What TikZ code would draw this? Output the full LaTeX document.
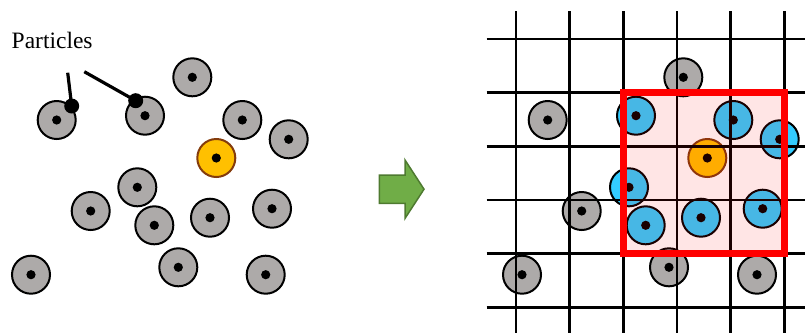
\documentclass[tikz,border=0pt]{standalone}
\usepackage{fontspec}
\setmainfont{Liberation Serif}
\begin{document}
\begin{tikzpicture}[x=1pt,y=-1pt,
  particle/.style={circle,draw=black,line width=2pt,fill=pgray,minimum size=38pt,inner sep=0pt,
    path picture={\fill[black] (path picture bounding box.center) circle (4.6pt);}},
  target/.style={particle,fill=porange,draw=pbrown},
  near/.style={particle,fill=pcyan},
  marker/.style={circle,fill=black,minimum size=15pt,inner sep=0pt},
  gridline/.style={black,line width=2.5pt},
  pointer/.style={black,line width=3.2pt}]
\definecolor{pgray}{HTML}{ADAAA9}
\definecolor{porange}{HTML}{FFC000}
\definecolor{pbrown}{HTML}{843C0C}
\definecolor{pcyan}{HTML}{33CCFF}
\definecolor{agreen}{HTML}{70AD47}
\definecolor{adark}{HTML}{4E7A30}
\useasboundingbox (0,0) rectangle (805,333);

% ---- left panel: free particles ----
\node[particle] (p1)  at (56.7,120)   {};
\node[particle] (p2)  at (145,115.7)  {};
\node[particle] (p3)  at (192.3,77.3) {};
\node[particle] (p4)  at (242.3,120)  {};
\node[particle] (p5)  at (288.7,139.3){};
\node[target]   (p6)  at (216.3,158)  {};
\node[particle] (p7)  at (137.3,187.3){};
\node[particle] (p8)  at (90.7,211)   {};
\node[particle] (p9)  at (154.3,225.3){};
\node[particle] (p10) at (210,217.7)  {};
\node[particle] (p11) at (272,208.7)  {};
\node[particle] (p12) at (31,274.7)   {};
\node[particle] (p13) at (178.3,267.3){};
\node[particle] (p14) at (265.7,274.7){};

\node[anchor=base west,inner sep=0pt,font=\fontsize{23.5}{26}\selectfont] (lbl) at (11.5,48.3) {Particles};
\coordinate (s1) at (67.7,72.7);
\coordinate (s2) at (84.3,71.7);
\node[marker] (d1) at (71.7,106) {};
\node[marker] (d2) at (135.7,100.7) {};
\draw[pointer] (s1) -- (d1.center);
\draw[pointer] (s2) -- (d2.center);

% ---- transition arrow ----
\draw[fill=agreen,draw=adark,line width=1.5pt,line join=miter]
  (379.3,175) -- (405,175) -- (405,160) -- (424,189.2) -- (405,218.4) -- (405,203.4) -- (379.3,203.4) -- cycle;

% ---- right panel: particles on a cell grid ----
\begin{scope}[xshift=491pt]
\node[particle] (q1)  at (56.7,120)   {};
\node[near]     (q2)  at (145,115.7)  {};
\node[particle] (q3)  at (192.3,77.3) {};
\node[near]     (q4)  at (242.3,120)  {};
\node[near]     (q5)  at (288.7,139.3){};
\node[target]   (q6)  at (216.3,158)  {};
\node[near]     (q7)  at (138,187.3)  {};
\node[particle] (q8)  at (90.7,211)   {};
\node[near]     (q9)  at (154.7,225.3){};
\node[near]     (q10) at (210,217.7)  {};
\node[near]     (q11) at (271.7,208.7){};
\node[particle] (q12) at (31,274.7)   {};
\node[particle] (q13) at (178,267.3)  {};
\node[particle] (q14) at (266,274.7)  {};
\end{scope}

\foreach \i in {0,...,5} {
  \draw[gridline] (516+53.66*\i,11) -- (516+53.66*\i,333);
  \draw[gridline] (486.7,39+53.66*\i) -- (805,39+53.66*\i);
}

% neighbourhood of the highlighted particle
\fill[red,opacity=0.1] (623.3,92.7) rectangle (784.3,253.6);
\draw[red,line width=7.5pt] (623.3,92.7) rectangle (784.3,253.6);
\end{tikzpicture}
\end{document}
